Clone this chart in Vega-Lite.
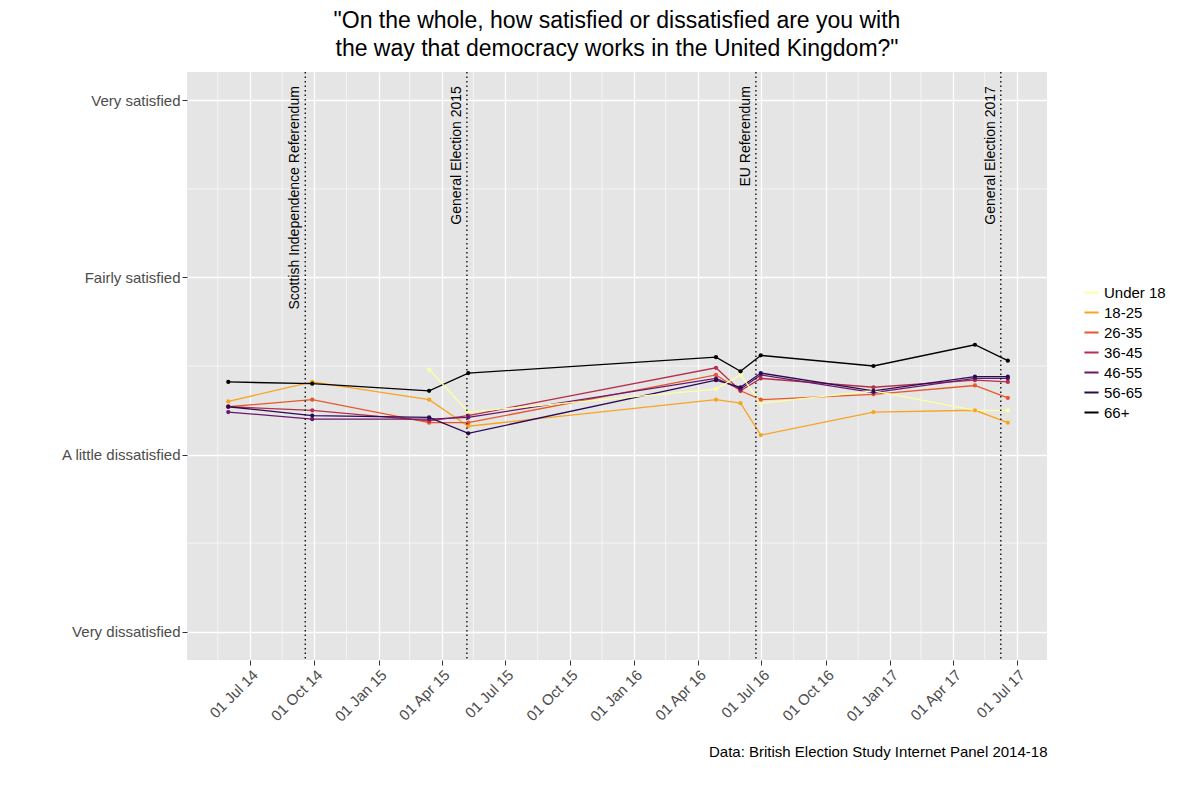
{
  "$schema": "https://vega.github.io/schema/vega-lite/v6.json",
  "width": 860,
  "height": 588,
  "autosize": "none",
  "padding": {"left": 187, "top": 72, "right": 153, "bottom": 140},
  "background": "white",
  "title": {
    "text": ["\"On the whole, how satisfied or dissatisfied are you with", " the way that democracy works in the United Kingdom?\""],
    "fontSize": 23, "fontWeight": "normal", "font": "Liberation Sans", "color": "black",
    "anchor": "middle", "offset": 10, "lineHeight": 28
  },
  "config": {
    "view": {"fill": "#e5e5e5", "stroke": null},
    "font": "Liberation Sans",
    "axis": {"gridColor": "white", "gridWidth": 1.3, "domain": false, "tickColor": "#333", "tickSize": 5, "labelFontSize": 15, "labelColor": "#4d4d4d"}
  },
  "datasets": {
    "survey": [
      {"date": "2014-05-31", "group": "18-25", "value": 2.30},
      {"date": "2014-05-31", "group": "26-35", "value": 2.27},
      {"date": "2014-05-31", "group": "36-45", "value": 2.27},
      {"date": "2014-05-31", "group": "46-55", "value": 2.24},
      {"date": "2014-05-31", "group": "56-65", "value": 2.27},
      {"date": "2014-05-31", "group": "66+", "value": 2.41},
      {"date": "2014-09-28", "group": "18-25", "value": 2.41},
      {"date": "2014-09-28", "group": "26-35", "value": 2.31},
      {"date": "2014-09-28", "group": "36-45", "value": 2.25},
      {"date": "2014-09-28", "group": "46-55", "value": 2.20},
      {"date": "2014-09-28", "group": "56-65", "value": 2.22},
      {"date": "2014-09-28", "group": "66+", "value": 2.40},
      {"date": "2015-03-14", "group": "Under 18", "value": 2.48},
      {"date": "2015-03-14", "group": "18-25", "value": 2.31},
      {"date": "2015-03-14", "group": "26-35", "value": 2.18},
      {"date": "2015-03-14", "group": "36-45", "value": 2.19},
      {"date": "2015-03-14", "group": "46-55", "value": 2.20},
      {"date": "2015-03-14", "group": "56-65", "value": 2.21},
      {"date": "2015-03-14", "group": "66+", "value": 2.36},
      {"date": "2015-05-09", "group": "Under 18", "value": 2.24},
      {"date": "2015-05-09", "group": "18-25", "value": 2.16},
      {"date": "2015-05-09", "group": "26-35", "value": 2.18},
      {"date": "2015-05-09", "group": "36-45", "value": 2.22},
      {"date": "2015-05-09", "group": "46-55", "value": 2.21},
      {"date": "2015-05-09", "group": "56-65", "value": 2.12},
      {"date": "2015-05-09", "group": "66+", "value": 2.46},
      {"date": "2016-04-27", "group": "Under 18", "value": 2.37},
      {"date": "2016-04-27", "group": "18-25", "value": 2.31},
      {"date": "2016-04-27", "group": "26-35", "value": 2.45},
      {"date": "2016-04-27", "group": "36-45", "value": 2.49},
      {"date": "2016-04-27", "group": "46-55", "value": 2.43},
      {"date": "2016-04-27", "group": "56-65", "value": 2.42},
      {"date": "2016-04-27", "group": "66+", "value": 2.55},
      {"date": "2016-06-01", "group": "Under 18", "value": 2.45},
      {"date": "2016-06-01", "group": "18-25", "value": 2.29},
      {"date": "2016-06-01", "group": "26-35", "value": 2.36},
      {"date": "2016-06-01", "group": "36-45", "value": 2.36},
      {"date": "2016-06-01", "group": "46-55", "value": 2.37},
      {"date": "2016-06-01", "group": "56-65", "value": 2.38},
      {"date": "2016-06-01", "group": "66+", "value": 2.47},
      {"date": "2016-06-30", "group": "Under 18", "value": 2.29},
      {"date": "2016-06-30", "group": "18-25", "value": 2.11},
      {"date": "2016-06-30", "group": "26-35", "value": 2.31},
      {"date": "2016-06-30", "group": "36-45", "value": 2.43},
      {"date": "2016-06-30", "group": "46-55", "value": 2.45},
      {"date": "2016-06-30", "group": "56-65", "value": 2.46},
      {"date": "2016-06-30", "group": "66+", "value": 2.56},
      {"date": "2016-12-08", "group": "Under 18", "value": 2.36},
      {"date": "2016-12-08", "group": "18-25", "value": 2.24},
      {"date": "2016-12-08", "group": "26-35", "value": 2.34},
      {"date": "2016-12-08", "group": "36-45", "value": 2.38},
      {"date": "2016-12-08", "group": "46-55", "value": 2.35},
      {"date": "2016-12-08", "group": "56-65", "value": 2.36},
      {"date": "2016-12-08", "group": "66+", "value": 2.50},
      {"date": "2017-05-02", "group": "Under 18", "value": 2.25},
      {"date": "2017-05-02", "group": "18-25", "value": 2.25},
      {"date": "2017-05-02", "group": "26-35", "value": 2.39},
      {"date": "2017-05-02", "group": "36-45", "value": 2.42},
      {"date": "2017-05-02", "group": "46-55", "value": 2.43},
      {"date": "2017-05-02", "group": "56-65", "value": 2.44},
      {"date": "2017-05-02", "group": "66+", "value": 2.62},
      {"date": "2017-06-18", "group": "Under 18", "value": 2.25},
      {"date": "2017-06-18", "group": "18-25", "value": 2.18},
      {"date": "2017-06-18", "group": "26-35", "value": 2.32},
      {"date": "2017-06-18", "group": "36-45", "value": 2.41},
      {"date": "2017-06-18", "group": "46-55", "value": 2.43},
      {"date": "2017-06-18", "group": "56-65", "value": 2.44},
      {"date": "2017-06-18", "group": "66+", "value": 2.53}
    ],
    "events": [
      {"date": "2014-09-18", "label": "Scottish Independence Referendum"},
      {"date": "2015-05-07", "label": "General Election 2015"},
      {"date": "2016-06-23", "label": "EU Referendum"},
      {"date": "2017-06-08", "label": "General Election 2017"}
    ],
    "minor": [
      {"date": "2014-05-16"}, {"date": "2014-08-16"}, {"date": "2014-11-16"}, {"date": "2015-02-14"},
      {"date": "2015-05-16"}, {"date": "2015-08-16"}, {"date": "2015-11-16"}, {"date": "2016-02-15"},
      {"date": "2016-05-16"}, {"date": "2016-08-16"}, {"date": "2016-11-16"}, {"date": "2017-02-14"},
      {"date": "2017-05-16"}
    ]
  },
  "layer": [
    {
      "data": {"name": "minor"},
      "mark": {"type": "rule", "color": "white", "strokeWidth": 0.6},
      "encoding": {"x": {"field": "date", "type": "temporal"}}
    },
    {
      "data": {"values": [{"v": 1.5}, {"v": 2.5}, {"v": 3.5}]},
      "mark": {"type": "rule", "color": "white", "strokeWidth": 0.6},
      "encoding": {"y": {"field": "v", "type": "quantitative"}}
    },
    {
      "data": {"name": "survey"},
      "mark": {"type": "line", "strokeWidth": 1.3},
      "encoding": {
        "x": {
          "field": "date", "type": "temporal",
          "scale": {"domain": ["2014-04-02", "2017-08-13"]},
          "axis": {
            "values": [
              {"year": 2014, "month": 7, "date": 1}, {"year": 2014, "month": 10, "date": 1},
              {"year": 2015, "month": 1, "date": 1}, {"year": 2015, "month": 4, "date": 1},
              {"year": 2015, "month": 7, "date": 1}, {"year": 2015, "month": 10, "date": 1},
              {"year": 2016, "month": 1, "date": 1}, {"year": 2016, "month": 4, "date": 1},
              {"year": 2016, "month": 7, "date": 1}, {"year": 2016, "month": 10, "date": 1},
              {"year": 2017, "month": 1, "date": 1}, {"year": 2017, "month": 4, "date": 1},
              {"year": 2017, "month": 7, "date": 1}
            ],
            "format": "%d %b %y", "labelAngle": -45, "labelAlign": "right", "labelBaseline": "top",
            "title": "Data: British Election Study Internet Panel 2014-18",
            "titleAnchor": "end", "titleAlign": "right", "titleFontSize": 15, "titleFontWeight": "normal",
            "titleColor": "black", "titlePadding": 20
          }
        },
        "y": {
          "field": "value", "type": "quantitative",
          "scale": {"domain": [0.84, 4.16], "nice": false, "zero": false},
          "axis": {
            "values": [1, 2, 3, 4], "title": null,
            "labelExpr": "datum.value == 1 ? 'Very dissatisfied' : datum.value == 2 ? 'A little dissatisfied' : datum.value == 3 ? 'Fairly satisfied' : 'Very satisfied'"
          }
        },
        "color": {
          "field": "group", "type": "nominal",
          "scale": {
            "domain": ["Under 18", "18-25", "26-35", "36-45", "46-55", "56-65", "66+"],
            "range": ["#fcffa4", "#f7a521", "#e8582b", "#b52f4c", "#6b176e", "#2b0a52", "#000000"]
          },
          "legend": {
            "title": null, "orient": "none", "legendX": 896, "legendY": 212,
            "labelFontSize": 15, "labelColor": "black", "symbolType": "stroke", "symbolStrokeWidth": 2,
            "symbolSize": 200, "rowPadding": 3, "fillColor": "white"
          }
        }
      }
    },
    {
      "data": {"name": "survey"},
      "mark": {"type": "point", "filled": true, "size": 18, "opacity": 1},
      "encoding": {
        "x": {"field": "date", "type": "temporal"},
        "y": {"field": "value", "type": "quantitative"},
        "color": {"field": "group", "type": "nominal"}
      }
    },
    {
      "data": {"name": "events"},
      "mark": {"type": "rule", "color": "black", "strokeDash": [1.5, 3], "strokeWidth": 1.3},
      "encoding": {"x": {"field": "date", "type": "temporal"}}
    },
    {
      "data": {"name": "events"},
      "mark": {"type": "text", "angle": -90, "align": "right", "baseline": "bottom", "fontSize": 14, "dy": -3, "color": "black"},
      "encoding": {
        "x": {"field": "date", "type": "temporal"},
        "y": {"datum": 4.08, "type": "quantitative"},
        "text": {"field": "label"}
      }
    }
  ]
}
